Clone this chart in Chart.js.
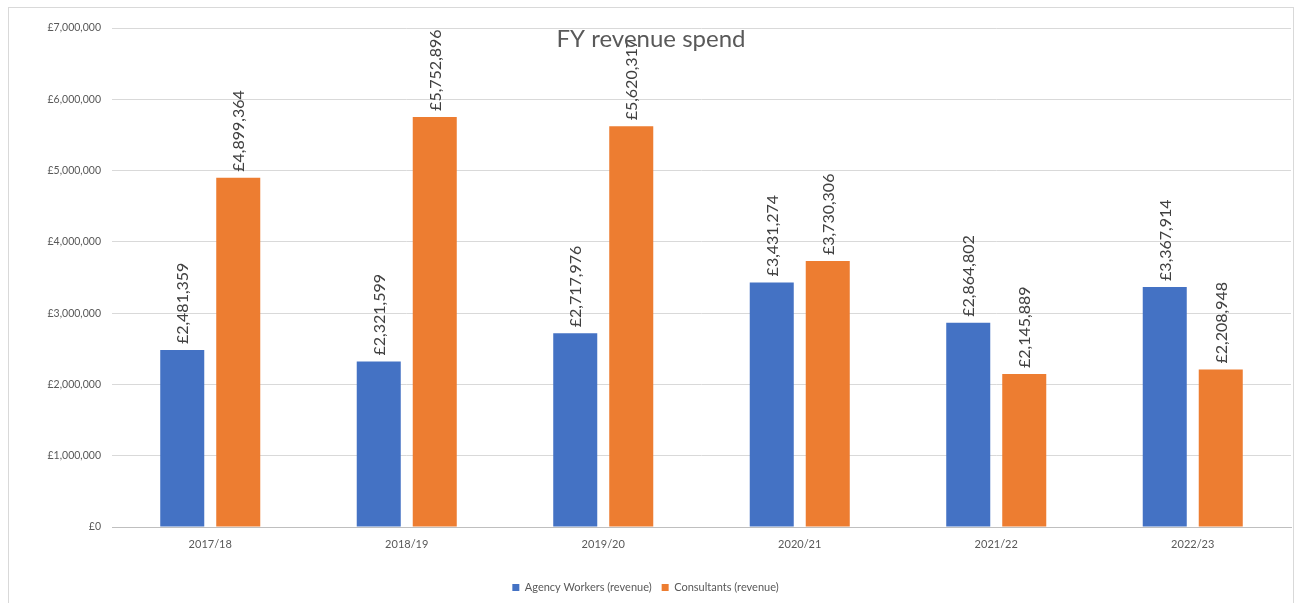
<!DOCTYPE html>
<html lang="en">

<head>
  <meta charset="UTF-8" />
  <meta name="viewport" content="width=device-width, initial-scale=1.0" />
  <title>FY revenue spend</title>
  <script src="https://cdn.jsdelivr.net/npm/chart.js"></script>
  <style>
    html, body { margin: 0; padding: 0; background: #ffffff; }
    #grafico { display: block; }
  </style>
</head>

<body>
  <canvas id="grafico" width="1298" height="603"></canvas>
</body>

</html>
<script>
// Anos fiscais e gastos (em libras)
const anos = ['2017/18', '2018/19', '2019/20', '2020/21', '2021/22', '2022/23'];
const agencyWorkers = [2481359, 2321599, 2717976, 3431274, 2864802, 3367914];
const consultants = [4899364, 5752896, 5620317, 3730306, 2145889, 2208948];
const yTicks = [0, 1000000, 2000000, 3000000, 4000000, 5000000, 6000000, 7000000];

const fonte = 'Lato, "Open Sans", sans-serif';
const libras = v => '£' + v.toLocaleString('en-GB');

// moldura cinza em volta do gráfico
const moldura = {
  id: 'moldura',
  beforeDraw(chart) {
    const ctx = chart.ctx;
    ctx.save();
    ctx.fillStyle = '#ffffff';
    ctx.fillRect(0, 0, chart.width, chart.height);
    ctx.strokeStyle = '#d9d9d9';
    ctx.lineWidth = 1;
    ctx.strokeRect(8.5, 7.5, 1285, 620);
    ctx.restore();
  }
};

// valores escritos na vertical acima de cada barra
const rotulos = {
  id: 'rotulos',
  afterDatasetsDraw(chart) {
    const ctx = chart.ctx;
    ctx.save();
    ctx.font = '16px ' + fonte;
    ctx.fillStyle = '#404040';
    ctx.textAlign = 'left';
    ctx.textBaseline = 'middle';
    chart.data.datasets.forEach((ds, i) => {
      chart.getDatasetMeta(i).data.forEach((bar, j) => {
        ctx.save();
        ctx.translate(bar.x + 1, bar.y - 6);
        ctx.rotate(-Math.PI / 2);
        ctx.fillText(libras(ds.data[j]), 0, 0);
        ctx.restore();
      });
    });
    ctx.restore();
  }
};

// título por cima da área do gráfico, com fundo branco
const titulo = {
  id: 'titulo',
  afterDraw(chart) {
    const ctx = chart.ctx;
    ctx.save();
    ctx.fillStyle = '#ffffff';
    ctx.fillRect(552, 29.5, 200, 11);
    ctx.font = '24px ' + fonte;
    ctx.fillStyle = '#595959';
    ctx.textAlign = 'center';
    ctx.textBaseline = 'middle';
    ctx.fillText('FY revenue spend', 651, 39);
    ctx.restore();
  }
};

const config = {
  type: 'bar',
  data: {
    labels: anos,
    datasets: [{
      label: 'Agency Workers (revenue)',
      data: agencyWorkers,
      backgroundColor: '#4472C4',
      borderColor: '#4472C4'
    }, {
      label: 'Consultants (revenue)',
      data: consultants,
      backgroundColor: '#ED7D31',
      borderColor: '#ED7D31'
    }]
  },
  options: {
    responsive: false,
    animation: false,
    categoryPercentage: 0.57,
    barPercentage: 0.786,
    layout: { padding: { top: 28, right: 7, bottom: 0, left: 0 } },
    plugins: {
      legend: {
        position: 'bottom',
        labels: {
          boxWidth: 7,
          boxHeight: 7,
          padding: 10,
          color: '#595959',
          font: { family: fonte, size: 11 }
        }
      },
      tooltip: { enabled: false }
    },
    scales: {
      x: {
        grid: { display: false, drawTicks: false },
        border: { color: '#bfbfbf' },
        ticks: { color: '#595959', padding: 11, font: { family: fonte, size: 11 } },
        afterFit(scale) { scale.height = 45; }
      },
      y: {
        min: 0,
        max: 7000000,
        afterBuildTicks(scale) { scale.ticks = yTicks.map(v => ({ value: v })); },
        grid: { color: '#d9d9d9', drawTicks: false },
        border: { display: false },
        ticks: {
          color: '#595959',
          padding: 11,
          font: { family: fonte, size: 10.5 },
          callback: v => libras(v)
        },
        afterFit(scale) { scale.width = 112; }
      }
    }
  },
  plugins: [moldura, rotulos, titulo]
};

let grafico = new Chart(document.getElementById('grafico'), config);
</script>
